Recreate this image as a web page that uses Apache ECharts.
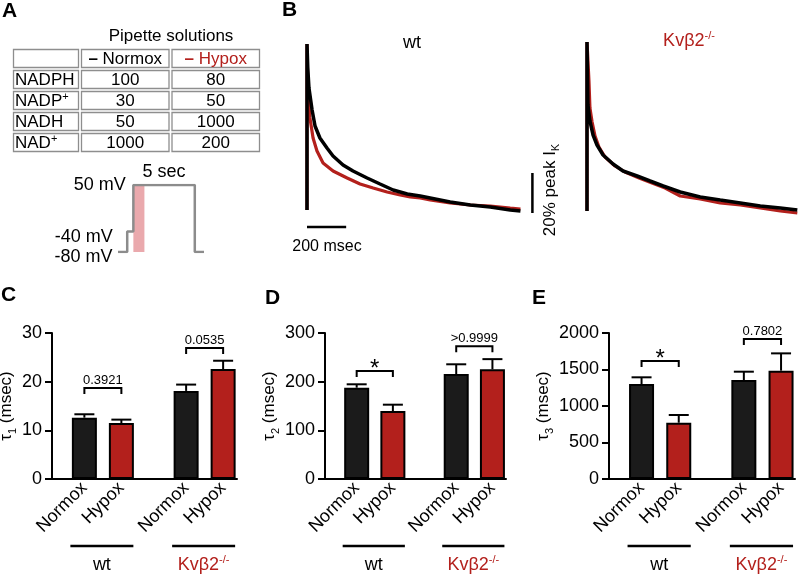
<!DOCTYPE html>
<html><head><meta charset="utf-8">
<script src="https://cdn.jsdelivr.net/npm/echarts@6/dist/echarts.min.js"></script>
<style>html,body{margin:0;padding:0;background:#fff}#c{width:800px;height:575px}</style>
</head><body><div id="c"></div>
<script>
// ---------------- DATA ----------------
const tableRows = ['NADPH', 'NADP+', 'NADH', 'NAD+'];
const tableCols = ['Normox', 'Hypox'];
const normoxConc = [100, 30, 50, 1000];
const hypoxConc = [80, 50, 1000, 200];

// voltage protocol (sec, mV)
const protoTime = [0, 0.75, 0.75, 1.25, 1.25, 6.25, 6.25, 7.0];
const protoVolt = [-80, -80, -40, -40, 50, 50, -80, -80];
const shadeRange = [1.25, 2.15];
const stepLabel = '5 sec';

// current traces (ms, % of peak)
const wtNormT = [0, 0, 4, 10, 26, 41, 66, 102, 133, 184, 235, 307, 373, 440, 512, 578, 629, 731, 834, 936, 1038, 1090];
const wtNormA = [17, 100, 88, 78, 67, 59, 53, 48, 44, 39.5, 36.5, 33, 30, 27, 25, 24, 23, 21, 19.5, 18.5, 17, 16.5];
const wtHypT = [0, 0, 5, 15, 31, 51, 82, 133, 205, 271, 338, 409, 476, 527, 578, 629, 731, 834, 936, 1038, 1090];
const wtHypA = [17, 100, 74.5, 63, 53, 46.5, 40.5, 36.5, 33, 30, 28, 26, 24.5, 23.5, 23, 22, 20.5, 19.5, 19, 18, 17.5];
const kvNormT = [0, 0, 5, 15, 31, 51, 82, 133, 184, 256, 322, 389, 476, 578, 680, 783, 885, 987, 1074];
const kvNormA = [15.5, 100, 68.5, 60.5, 53.5, 48.5, 43.5, 39, 35.5, 33, 30.5, 28, 25, 22.5, 21, 19.5, 18, 17, 16];
const kvHypT = [0, 0, 10, 15, 26, 41, 61, 92, 143, 194, 266, 332, 399, 476, 578, 680, 783, 885, 987, 1074];
const kvHypA = [15.5, 100, 80.5, 67, 60, 53, 47.5, 42.5, 38, 35, 32, 29.5, 27, 23, 21.5, 19.5, 18.5, 17, 15.5, 14.5];
const scaleBarTime = [0, 200];     // 200 msec
const scaleBarAmp = [15.5, 35.5];  // 20 % peak

// bar charts
const conditions = ['Normox', 'Hypox', 'Normox', 'Hypox'];
const genotypes = ['wt', 'Kvβ2-/-'];
const tau1Mean = [12.6, 11.5, 18.1, 22.6];
const tau1Sem = [0.7, 0.7, 1.3, 1.7];
const tau2Mean = [187.6, 139.7, 215.7, 225.3];
const tau2Sem = [7, 13, 20, 21];
const tau3Mean = [1301, 771, 1356, 1484];
const tau3Sem = [92, 106, 114, 237];
const tau1P = ['0.3921', '0.0535'];
const tau2P = ['*', '>0.9999'];
const tau3P = ['*', '0.7802'];

// ---------------- LAYOUT / STYLE ----------------
const FONT = '"Liberation Sans", Arial, Helvetica, sans-serif';
const RED = '#b3201c';
const DARK = '#1b1b1b';
const zip = (a, b) => a.map((v, i) => [v, b[i]]);
const supRich = {
  sup: { fontSize: 11, verticalAlign: 'top', lineHeight: 11, fontFamily: FONT },
  sub: { fontSize: 11, verticalAlign: 'bottom', lineHeight: 11, fontFamily: FONT },
  dk: { fontWeight: 'bold', fill: '#000', color: '#000', fontSize: 17, lineHeight: 20, fontFamily: FONT },
  dr: { fill: RED, color: RED, fontSize: 17, lineHeight: 20, fontFamily: FONT },
  drb: { fontWeight: 'bold', fill: RED, color: RED, fontSize: 17, lineHeight: 20, fontFamily: FONT },
  k: { fill: RED, color: RED, fontSize: 18, lineHeight: 22, fontFamily: FONT },
  ks: { fill: RED, color: RED, fontSize: 11, verticalAlign: 'top', lineHeight: 11, fontFamily: FONT }
};
const richLabel = s => s.replace('+', '{sup|+}');
const kvRich = '{k|Kvβ2}{ks|-/-}';

const barSlots = [3, 7, 14, 18];
const nSlots = 20;
const xCats = Array.from({ length: nSlots }, (_, i) => 's' + i);
const slotLabel = v => { const k = barSlots.indexOf(xCats.indexOf(v)); return k >= 0 ? conditions[k] : ''; };

const rowKeys = ['header'].concat(tableRows);

function cellRender(textFor, align) {
  return function (params, api) {
    const ci = api.value(0), ri = api.value(1);
    const c = api.coord([ci, ri]);
    const s = api.size([1, 1]);
    const x0 = c[0] - s[0] / 2, y0 = c[1] - s[1] / 2;
    return {
      type: 'group', children: [
        { type: 'rect', shape: { x: x0 + 1.5, y: y0 + 1.5, width: s[0] - 3, height: s[1] - 3 },
          style: { fill: '#fff', stroke: '#8e8e8e', lineWidth: 1.3 } },
        { type: 'text', x: align === 'left' ? x0 + 3 : c[0], y: c[1] + 1,
          style: { text: textFor(ri, ci), fill: '#000', fontSize: 17, lineHeight: 20, fontFamily: FONT,
                   align: align, verticalAlign: 'middle', rich: supRich } }
      ]
    };
  };
}

const panels = [
  { grid: 5, mean: tau1Mean, sem: tau1Sem, max: 30, interval: 10, sub: '1', p: tau1P, bracket: [18.7, 26.9], nameGap: 27 },
  { grid: 6, mean: tau2Mean, sem: tau2Sem, max: 300, interval: 100, sub: '2', p: tau2P, bracket: [222, 273], nameGap: 38 },
  { grid: 7, mean: tau3Mean, sem: tau3Sem, max: 2000, interval: 500, sub: '3', p: tau3P, bracket: [1616, 1918], nameGap: 48 }
];

const grids = [
  { left: 12, top: 48, width: 68, height: 105 },
  { left: 80, top: 48, width: 181, height: 105 },
  { left: 118, top: 185, width: 86, height: 67 },
  { left: 307, top: 44, width: 235, height: 200 },
  { left: 587, top: 42, width: 235, height: 200 },
  { left: 52, top: 333, width: 185, height: 146 },
  { left: 325, top: 333, width: 181, height: 146 },
  { left: 609, top: 333, width: 186, height: 146 }
].map(g => Object.assign({ containLabel: false, outerBoundsMode: 'none' }, g));

const xAxes = [
  { gridIndex: 0, type: 'category', data: ['label'], show: false },
  { gridIndex: 1, type: 'category', data: tableCols, show: false },
  { gridIndex: 2, type: 'value', min: 0, max: 7, show: false },
  { gridIndex: 3, type: 'value', min: 0, max: 1200, show: false },
  { gridIndex: 4, type: 'value', min: 0, max: 1200, show: false }
];
const yAxes = [
  { gridIndex: 0, type: 'category', data: rowKeys, inverse: true, show: false },
  { gridIndex: 1, type: 'category', data: rowKeys, inverse: true, show: false },
  { gridIndex: 2, type: 'value', min: -80, max: 50, show: false },
  { gridIndex: 3, type: 'value', min: 0, max: 100, show: false },
  { gridIndex: 4, type: 'value', min: 0, max: 100, show: false }
];

const series = [
  { type: 'custom', xAxisIndex: 0, yAxisIndex: 0, encode: { x: 0, y: 1 },
    data: rowKeys.map((r, i) => [0, i]),
    renderItem: cellRender((ri) => ri === 0 ? '' : richLabel(tableRows[ri - 1]), 'left') },
  { type: 'custom', xAxisIndex: 1, yAxisIndex: 1, encode: { x: 0, y: 1 },
    data: rowKeys.flatMap((r, i) => [[0, i], [1, i]]),
    renderItem: cellRender((ri, ci) => {
      if (ri === 0) return ci === 0 ? '{dk|–} ' + tableCols[0] : '{drb|–} {dr|' + tableCols[1] + '}';
      return String(ci === 0 ? normoxConc[ri - 1] : hypoxConc[ri - 1]);
    }, 'center') },
  { type: 'line', xAxisIndex: 2, yAxisIndex: 2, data: zip(protoTime, protoVolt), symbol: 'none',
    lineStyle: { color: '#8c8c8c', width: 2.5 }, z: 2,
    markArea: { silent: true, itemStyle: { color: 'rgba(205,50,60,0.42)' },
      data: [[{ coord: [shadeRange[0], -80] }, { coord: [shadeRange[1], 50] }]] },
    markPoint: { symbol: 'circle', symbolSize: 1, itemStyle: { color: 'rgba(0,0,0,0)' }, silent: true,
      label: { show: true, formatter: p => p.name, color: '#000', fontSize: 18, fontFamily: FONT, position: 'left' },
      data: [
        { name: protoVolt[0] + ' mV', coord: [protoTime[0], protoVolt[0]], label: { distance: 5, offset: [0, 5] } },
        { name: protoVolt[2] + ' mV', coord: [protoTime[2], protoVolt[2]], label: { distance: 14, offset: [0, 6] } },
        { name: protoVolt[4] + ' mV', coord: [protoTime[4], protoVolt[4]], label: { distance: 7 } },
        { name: stepLabel, coord: [(protoTime[4] + protoTime[5]) / 2, protoVolt[4]], label: { position: 'top', distance: 3 } }
      ] } },
  // traces wt
  { type: 'line', xAxisIndex: 3, yAxisIndex: 3, data: zip(wtHypT, wtHypA), symbol: 'none', lineStyle: { color: RED, width: 3.2 }, z: 2 },
  { type: 'line', xAxisIndex: 3, yAxisIndex: 3, data: zip(wtNormT, wtNormA), symbol: 'none', lineStyle: { color: '#000', width: 3.5 }, z: 3 },
  { type: 'line', xAxisIndex: 3, yAxisIndex: 3, data: zip(scaleBarTime, [8.5, 8.5]), symbol: 'none', lineStyle: { color: '#000', width: 2.5 } },
  { type: 'line', xAxisIndex: 3, yAxisIndex: 3, data: zip([1151, 1151], scaleBarAmp), symbol: 'none', lineStyle: { color: '#000', width: 2.5 } },
  // traces Kv
  { type: 'line', xAxisIndex: 4, yAxisIndex: 4, data: zip(kvHypT, kvHypA), symbol: 'none', lineStyle: { color: RED, width: 3.2 }, z: 2 },
  { type: 'line', xAxisIndex: 4, yAxisIndex: 4, data: zip(kvNormT, kvNormA), symbol: 'none', lineStyle: { color: '#000', width: 3.5 }, z: 3 }
];

panels.forEach((pn, k) => {
  const ai = xAxes.length;
  xAxes.push({ gridIndex: pn.grid, type: 'category', data: xCats,
    axisLine: { show: true, lineStyle: { color: '#000', width: 2 } }, axisTick: { show: false },
    axisLabel: { interval: 0, rotate: 45, fontSize: 18, color: '#000', fontFamily: FONT, margin: 6, formatter: slotLabel } });
  yAxes.push({ gridIndex: pn.grid, type: 'value', min: 0, max: pn.max, interval: pn.interval,
    axisLine: { show: true, lineStyle: { color: '#000', width: 2 } },
    axisTick: { show: true, length: 7, lineStyle: { color: '#000', width: 2 } },
    axisLabel: { fontSize: 18, color: '#000', fontFamily: FONT, margin: 10, formatter: v => String(v) },
    splitLine: { show: false },
    name: 'τ{sub|' + pn.sub + '} (msec)', nameLocation: 'middle', nameGap: pn.nameGap,
    nameTextStyle: { fontSize: 17, color: '#000', fontFamily: FONT, lineHeight: 24, rich: supRich } });
  const barData = xCats.map(() => '-');
  conditions.forEach((c, i) => {
    barData[barSlots[i]] = { value: pn.mean[i], itemStyle: { color: c === 'Normox' ? DARK : RED } };
  });
  series.push({ type: 'bar', xAxisIndex: ai, yAxisIndex: ai, data: barData, barWidth: 25,
    itemStyle: { borderColor: '#000', borderWidth: 2 }, z: 2 });
  // error bars
  series.push({ type: 'custom', xAxisIndex: ai, yAxisIndex: ai, z: 3, encode: { x: 0, y: 1 },
    data: conditions.map((c, i) => [barSlots[i], pn.mean[i], pn.sem[i]]),
    renderItem: (params, api) => {
      const s = api.value(0), m = api.value(1), e = api.value(2);
      const p0 = api.coord([s, m]), p1 = api.coord([s, m + e]);
      return { type: 'group', children: [
        { type: 'line', shape: { x1: p0[0], y1: p0[1], x2: p1[0], y2: p1[1] }, style: { stroke: '#000', lineWidth: 2 } },
        { type: 'line', shape: { x1: p1[0] - 10, y1: p1[1], x2: p1[0] + 10, y2: p1[1] }, style: { stroke: '#000', lineWidth: 2 } }
      ] };
    } });
  // significance brackets
  series.push({ type: 'custom', xAxisIndex: ai, yAxisIndex: ai, z: 3, encode: { x: [0, 1], y: 2 },
    data: [[barSlots[0], barSlots[1], pn.bracket[0]], [barSlots[2], barSlots[3], pn.bracket[1]]],
    renderItem: (params, api) => {
      const a = api.coord([api.value(0), api.value(2)]);
      const b = api.coord([api.value(1), api.value(2)]);
      const y = a[1];
      const txt = pn.p[params.dataIndex];
      const star = txt === '*';
      return { type: 'group', children: [
        { type: 'polyline', shape: { points: [[a[0], y + 6], [a[0], y], [b[0], y], [b[0], y + 6]] },
          style: { stroke: '#000', lineWidth: 2, fill: null } },
        { type: 'text', x: (a[0] + b[0]) / 2, y: star ? y - 2 : y - 8,
          style: { text: txt, fill: '#000', fontSize: star ? 24 : 13, fontFamily: FONT, align: 'center', verticalAlign: 'middle' } }
      ] };
    } });
  // genotype group lines + labels
  series.push({ type: 'custom', xAxisIndex: ai, yAxisIndex: ai, z: 3, encode: { x: [0, 1], y: 2 },
    data: [[barSlots[0], barSlots[1], 0], [barSlots[2], barSlots[3], 0]],
    renderItem: (params, api) => {
      const a = api.coord([api.value(0), 0]);
      const b = api.coord([api.value(1), 0]);
      const y = a[1] + 67;
      const g = genotypes[params.dataIndex];
      const txt = g === 'wt' ? g : kvRich;
      return { type: 'group', children: [
        { type: 'line', shape: { x1: a[0] - 14, y1: y, x2: b[0] + 12, y2: y }, style: { stroke: '#000', lineWidth: 2.5 } },
        { type: 'text', x: (a[0] - 14 + b[0] + 12) / 2, y: y + 19,
          style: { text: txt, fill: '#000', fontSize: 18, lineHeight: 22, fontFamily: FONT, align: 'center', verticalAlign: 'middle', rich: supRich } }
      ] };
    } });
});

const letter = (t, x, y) => ({ type: 'text', x: x, y: y,
  style: { text: t, fill: '#000', fontSize: 21, fontWeight: 'bold', fontFamily: FONT, align: 'left', verticalAlign: 'top' } });

const option = {
  animation: false,
  textStyle: { fontFamily: FONT },
  grid: grids,
  xAxis: xAxes,
  yAxis: yAxes,
  series: series,
  graphic: [
    letter('A', 2, 1), letter('B', 282, 0), letter('C', 1, 285), letter('D', 265, 288), letter('E', 532, 288),
    { type: 'text', x: 171, y: 36, style: { text: 'Pipette solutions', fill: '#000', fontSize: 17, fontFamily: FONT, align: 'center', verticalAlign: 'middle' } },
    { type: 'text', x: 412, y: 43, style: { text: genotypes[0], fill: '#000', fontSize: 18, fontFamily: FONT, align: 'center', verticalAlign: 'middle' } },
    { type: 'text', x: 689, y: 41, style: { text: kvRich, fill: RED, fontSize: 18, lineHeight: 22, fontFamily: FONT, align: 'center', verticalAlign: 'middle', rich: supRich } },
    { type: 'text', x: 327, y: 247, style: { text: '200 msec', fill: '#000', fontSize: 16, fontFamily: FONT, align: 'center', verticalAlign: 'middle' } },
    { type: 'text', x: 550, y: 190, rotation: Math.PI / 2,
      style: { text: '20% peak I{sub|K}', fill: '#000', fontSize: 17, lineHeight: 22, fontFamily: FONT, align: 'center', verticalAlign: 'middle', rich: supRich } }
  ]
};

const chart = echarts.init(document.getElementById('c'), null, { renderer: 'canvas' });
chart.setOption(option);
</script></body></html>
